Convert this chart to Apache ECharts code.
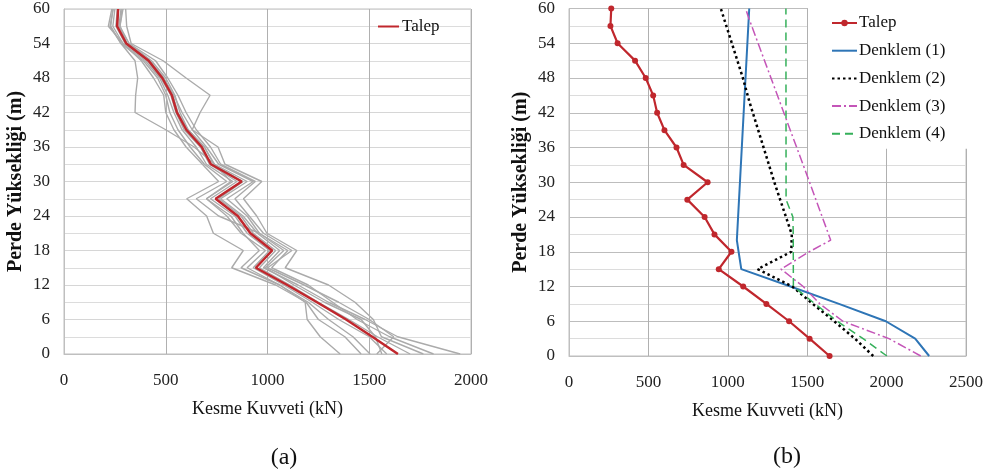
<!DOCTYPE html>
<html>
<head>
<meta charset="utf-8">
<script src="https://cdn.jsdelivr.net/npm/echarts@6/dist/echarts.min.js"></script>
<style>
  html, body { margin: 0; padding: 0; background: #fff; }
  #chart { width: 995px; height: 475px; }
</style>
</head>
<body>
<div id="chart"></div>
<script>
// yükseklikler (m)
const heights = [0, 3, 6, 9, 12, 15, 18, 21, 24, 27, 30, 33, 36, 39, 42, 45, 48, 51, 54, 57, 60]
// talep kesme kuvveti (kN)
const talep = [1641, 1515, 1386, 1243, 1097, 943, 1023, 916, 854, 745, 873, 722, 677, 601, 555, 530, 483, 416, 306, 261, 266]

// (a) tek tek kayıtlar
const kayit1 = [1357, 1259, 1195, 1185, 1060, 870, 960, 880, 820, 700, 830, 700, 650, 580, 540, 510, 470, 400, 290, 240, 250]
const kayit2 = [1947, 1640, 1480, 1300, 1150, 980, 1060, 950, 880, 770, 900, 740, 690, 610, 570, 545, 500, 430, 320, 270, 280]
const kayit3 = [1816, 1600, 1440, 1320, 1200, 1020, 1100, 960, 900, 800, 930, 760, 700, 630, 580, 540, 490, 420, 310, 275, 285]
const kayit4 = [1766, 1560, 1520, 1430, 1300, 1087, 1144, 997, 947, 882, 972, 791, 757, 630, 669, 718, 600, 487, 330, 308, 303]
const kayit5 = [1701, 1540, 1400, 1250, 1110, 960, 1040, 930, 870, 760, 880, 735, 690, 610, 560, 535, 490, 420, 305, 262, 268]
const kayit6 = [1586, 1500, 1350, 1220, 1080, 930, 1010, 900, 840, 720, 850, 715, 670, 590, 550, 525, 475, 410, 300, 255, 262]
const kayit7 = [1562, 1530, 1460, 1280, 1130, 990, 1080, 960, 760, 650, 800, 690, 620, 560, 520, 500, 460, 390, 280, 226, 242]
const kayit8 = [1537, 1620, 1500, 1350, 1180, 1000, 1120, 980, 910, 840, 940, 770, 720, 650, 600, 560, 510, 450, 320, 275, 290]
const kayit9 = [1504, 1420, 1300, 1200, 1060, 900, 990, 870, 800, 700, 820, 740, 640, 500, 349, 352, 362, 349, 280, 230, 240]
const kayit10 = [1460, 1380, 1250, 1190, 1040, 824, 881, 734, 701, 603, 760, 680, 600, 540, 500, 490, 440, 380, 290, 218, 235]
const kayitlar = [kayit1, kayit2, kayit3, kayit4, kayit5, kayit6, kayit7, kayit8, kayit9, kayit10]

// (b) denklemler
const d1Height = [0, 3, 6, 9, 12, 15, 18, 20, 60]
const d1Value = [2268, 2180, 1995, 1700, 1395, 1085, 1068, 1057, 1135]
const d2Height = [0, 3, 6, 9, 12, 15, 18, 21, 30, 44, 48, 60]
const d2Value = [1916, 1800, 1670, 1535, 1406, 1188, 1400, 1403, 1293, 1135, 1095, 956]
const d3Height = [0, 3, 6, 9, 12, 15, 18, 20, 30, 58.5, 60]
const d3Value = [2215, 2015, 1725, 1580, 1475, 1335, 1513, 1648, 1515, 1130, 1112]
const d4Height = [0, 3, 6, 9, 12, 21, 24, 27, 60]
const d4Value = [2002, 1852, 1690, 1550, 1413, 1412, 1410, 1367, 1366]

const xTicksA = [0, 500, 1000, 1500, 2000]
const xTicksB = [0, 500, 1000, 1500, 2000, 2500]

const font = 'Liberation Serif'
const red = '#c0272d'

const pairs = (vals, hs) => vals.map((v, i) => [v, hs[i]])

function xAxisOf(gridIndex, ticks) {
  return {
    type: 'value',
    gridIndex: gridIndex,
    min: ticks[0],
    max: ticks[ticks.length - 1],
    interval: ticks[1] - ticks[0],
    name: 'Kesme Kuvveti (kN)',
    nameLocation: 'middle',
    nameGap: 46,
    nameTextStyle: { fontFamily: font, fontSize: 18, color: '#111' },
    axisLine: { lineStyle: { color: '#bfbfbf', width: 1 } },
    axisTick: { show: false },
    axisLabel: { fontFamily: font, fontSize: 17, color: '#222', margin: 18, formatter: (v) => String(v) },
    splitLine: { lineStyle: { color: '#b0b0b0', width: 1 } }
  }
}

function yAxisOf(gridIndex, majorColor) {
  return {
    type: 'value',
    gridIndex: gridIndex,
    min: 0,
    max: 60,
    interval: 6,
    name: 'Perde Yüksekliği (m)',
    nameLocation: 'middle',
    nameGap: 38,
    nameTextStyle: { fontFamily: font, fontSize: 20, fontWeight: 'bold', color: '#111' },
    axisLine: { show: true, lineStyle: { color: '#bfbfbf', width: 1 } },
    axisTick: { show: false },
    axisLabel: { fontFamily: font, fontSize: 17, color: '#222', margin: 14 },
    splitLine: { lineStyle: { color: majorColor, width: 1 } },
    minorTick: { show: false, splitNumber: 2 },
    minorSplitLine: { show: true, lineStyle: { color: '#dcdcdc', width: 1 } }
  }
}

const chart = echarts.init(document.getElementById('chart'))

const graySeries = kayitlar.map((k, i) => ({
  name: 'Kayıt ' + (i + 1),
  type: 'line',
  xAxisIndex: 0,
  yAxisIndex: 0,
  data: pairs(k, heights),
  symbol: 'none',
  silent: true,
  lineStyle: { color: '#ababab', width: 1.4 },
  z: 2
}))

// legend items that show the line only
const lineOnly = (name) => ({ name: name, itemStyle: { opacity: 0 } })

const option = {
  animation: false,
  backgroundColor: '#fff',
  grid: [
    { left: 64, top: 9, width: 407, height: 345, show: true, borderColor: '#bfbfbf', borderWidth: 1 },
    { left: 569, top: 7, width: 397, height: 349, show: true, borderColor: '#bfbfbf', borderWidth: 1 }
  ],
  xAxis: [xAxisOf(0, xTicksA), xAxisOf(1, xTicksB)],
  yAxis: [yAxisOf(0, '#d6d6d6'), yAxisOf(1, '#bdbdbd')],
  legend: [
    {
      data: [lineOnly('TalepA')],
      formatter: () => 'Talep',
      orient: 'vertical',
      left: 373,
      top: 14,
      padding: [4, 4, 4, 4],
      itemWidth: 21,
      itemHeight: 14,
      selectedMode: false,
      textStyle: { fontFamily: font, fontSize: 17, color: '#111', padding: [0, 0, 0, -2] }
    },
    {
      data: ['Talep', lineOnly('Denklem (1)'), lineOnly('Denklem (2)'), lineOnly('Denklem (3)'), lineOnly('Denklem (4)')],
      orient: 'vertical',
      left: 808,
      top: 8,
      padding: [6, 24, 6, 23],
      itemWidth: 25,
      itemHeight: 8,
      itemGap: 9.7,
      selectedMode: false,
      backgroundColor: '#fff',
      textStyle: { fontFamily: font, fontSize: 17, color: '#111', lineHeight: 18, padding: [0, 0, 0, -3] }
    }
  ],
  graphic: [
    { type: 'text', x: 284, y: 458, style: { text: '(a)', fontFamily: font, fontSize: 24, fill: '#111', align: 'center', verticalAlign: 'middle' } },
    { type: 'text', x: 787, y: 457, style: { text: '(b)', fontFamily: font, fontSize: 24, fill: '#111', align: 'center', verticalAlign: 'middle' } }
  ],
  series: graySeries.concat([
    {
      name: 'TalepA',
      type: 'line',
      xAxisIndex: 0,
      yAxisIndex: 0,
      data: pairs(talep, heights),
      symbol: 'none',
      lineStyle: { color: red, width: 2.5 },
      itemStyle: { color: red },
      z: 5
    },
    {
      name: 'Talep',
      type: 'line',
      xAxisIndex: 1,
      yAxisIndex: 1,
      data: pairs(talep, heights),
      symbol: 'circle',
      symbolSize: 6,
      lineStyle: { color: red, width: 2.2 },
      itemStyle: { color: red },
      z: 5
    },
    {
      name: 'Denklem (1)',
      type: 'line',
      xAxisIndex: 1,
      yAxisIndex: 1,
      data: pairs(d1Value, d1Height),
      symbol: 'none',
      lineStyle: { color: '#2e75b6', width: 2 },
      itemStyle: { color: '#2e75b6' },
      z: 4
    },
    {
      name: 'Denklem (2)',
      type: 'line',
      xAxisIndex: 1,
      yAxisIndex: 1,
      data: pairs(d2Value, d2Height),
      symbol: 'none',
      lineStyle: { color: '#000', width: 2.5, type: [2.5, 3] },
      itemStyle: { color: '#000' },
      z: 4
    },
    {
      name: 'Denklem (3)',
      type: 'line',
      xAxisIndex: 1,
      yAxisIndex: 1,
      data: pairs(d3Value, d3Height),
      symbol: 'none',
      lineStyle: { color: '#c455b8', width: 1.5, type: [9, 3, 2, 3] },
      itemStyle: { color: '#c455b8' },
      z: 4
    },
    {
      name: 'Denklem (4)',
      type: 'line',
      xAxisIndex: 1,
      yAxisIndex: 1,
      data: pairs(d4Value, d4Height),
      symbol: 'none',
      lineStyle: { color: '#35b05a', width: 1.5, type: [8, 5] },
      itemStyle: { color: '#35b05a' },
      z: 4
    }
  ])
}

chart.setOption(option)
</script>
</body>
</html>
